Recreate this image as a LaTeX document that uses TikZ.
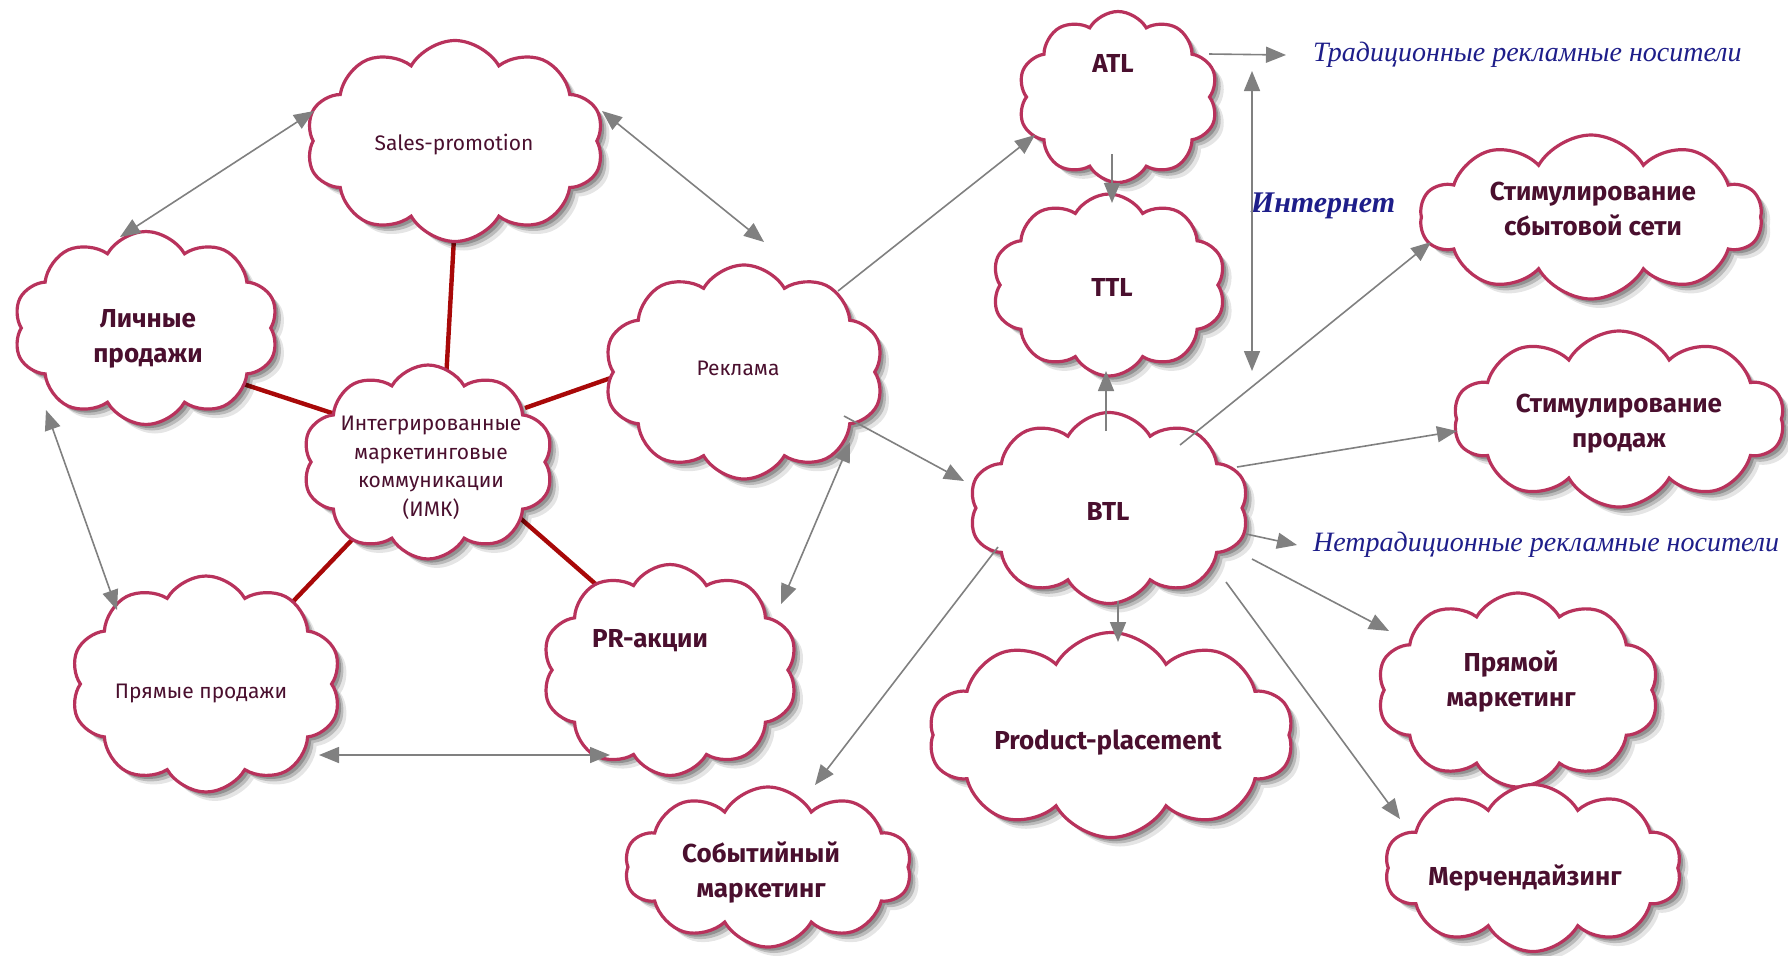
\documentclass[tikz,border=0pt]{standalone}
\usepackage{fontspec}
\setmainfont{Fira Sans}
\newfontfamily\serifit{Liberation Serif}
\usetikzlibrary{shapes.symbols,shadows,arrows.meta,calc}
\pgfdeclarelayer{bottom}
\pgfdeclarelayer{links}
\pgfsetlayers{bottom,links,main}
\definecolor{cloudc}{HTML}{B8325C}
\definecolor{txtc}{HTML}{4A0F2E}
\definecolor{linkc}{HTML}{A80808}
\definecolor{arrc}{HTML}{808080}
\definecolor{bluec}{HTML}{1E1E8A}
\begin{document}
\begin{tikzpicture}[x=0.5pt,y=-0.5pt,
 cl/.style 2 args={cloud, cloud puffs=10, cloud puff arc=120, cloud ignores aspect,
   minimum width=#1*0.5pt, minimum height=#2*0.5pt, draw=cloudc, line width=1.6pt,
   fill=white, inner sep=0pt,
   drop shadow={shadow xshift=4.5pt, shadow yshift=-4.5pt, fill=black, opacity=0.10},
   drop shadow={shadow xshift=3pt, shadow yshift=-3pt, fill=black, opacity=0.18},
   drop shadow={shadow xshift=1.8pt, shadow yshift=-1.8pt, fill=black, opacity=0.22}},
 lbl/.style={text=txtc, font=\fontsize{10.5}{14.25}\selectfont, align=center},
 blbl/.style={text=txtc, font=\fontsize{13}{17.5}\selectfont\bfseries, align=center},
 itl/.style={text=bluec, font=\serifit\itshape\fontsize{14}{16}\selectfont, anchor=west},
 gar/.style={draw=arrc, line width=0.8pt, -{Triangle[length=10pt,width=8pt]}},
 gdar/.style={draw=arrc, line width=0.8pt, {Triangle[length=10pt,width=8pt]}-{Triangle[length=10pt,width=8pt]}},
 redlink/.style={draw=linkc, line width=2.2pt}
]
\begin{pgfonlayer}{bottom}
\fill[white] (0,0) rectangle (1788,955);
\end{pgfonlayer}
\useasboundingbox (0,0) rectangle (1788,955);

% clouds
\node[cl={298}{201}] (sales) at (455,141) {};
\node[cl={265}{193}] (lich) at (146,328) {};
\node[cl={280}{214}] (rekl) at (744,372) {};
\node[cl={251}{194}] (imk) at (428,462) {};
\node[cl={271}{216}] (pryam) at (206,684) {};
\node[cl={256}{211}] (pr) at (670,670) {};
\node[cl={200}{171}] (atl) at (1118,97) {};
\node[cl={234}{182}] (ttl) at (1109,285) {};
\node[cl={280}{191}] (btl) at (1109,508) {};
\node[cl={342}{164}] (sbyt) at (1591,217) {};
\node[cl={331}{176}] (stprod) at (1619,419) {};
\node[cl={282}{194}] (pmark) at (1518,690) {};
\node[cl={297}{167}] (merch) at (1533,868) {};
\node[cl={365}{205}] (pp) at (1111,735) {};
\node[cl={287}{160}] (sob) at (768,867) {};

% texts
\node[lbl] (salesT) at (454,145) {Sales-promotion};
\node[blbl] (lichT) at (148,339) {Личные\\продажи};
\node[lbl] (reklT) at (738,368) {Реклама};
\node[lbl] (imkT) at (431,468) {Интегрированные\\маркетинговые\\коммуникации\\(ИМК)};
\node[lbl] (pryamT) at (201,693) {Прямые продажи};
\node[blbl] (prT) at (650,641) {PR-акции};
\node[blbl] (atlT) at (1113,63) {ATL};
\node[blbl] (ttlT) at (1112,287) {TTL};
\node[blbl] (btlT) at (1108,511) {BTL};
\node[blbl] (sbytT) at (1593,209) {Стимулирование\\сбытовой сети};
\node[blbl] (stprodT) at (1619,424) {Стимулирование\\продаж};
\node[blbl] (pmarkT) at (1511,681) {Прямой\\маркетинг};
\node[blbl] (merchT) at (1525,878) {Мерчендайзинг};
\node[blbl] (ppT) at (1108,743) {Product-placement};
\node[blbl] (sobT) at (761,872) {Событийный\\маркетинг};
\node[itl] (trad) at (1306,55) {Традиционные рекламные носители};
\node[itl] (netrad) at (1306,545) {Нетрадиционные рекламные носители};
\node[itl, anchor=center, font=\serifit\itshape\bfseries\fontsize{15}{17}\selectfont] (inet) at (1323,206) {Интернет};
\coordinate (inetTop) at (1252,71);
\coordinate (inetBot) at (1252,371);

% red links behind clouds
\begin{pgfonlayer}{links}
\draw[redlink] ($(sales)+(0,79)$) -- ($(imk)+(18,-82)$);
\draw[redlink] ($(lich)+(79,50)$) -- ($(imk)+(-90,-47)$);
\draw[redlink] ($(rekl)+(-119,1)$) -- ($(imk)+(97,-54)$);
\draw[redlink] ($(pryam)+(54,-48)$) -- ($(imk)+(-58,59)$);
\draw[redlink] ($(pr)+(-55,-69)$) -- ($(imk)+(92,56)$);
\end{pgfonlayer}

% double arrows
\draw[gdar] ($(sales)+(-141,-30)$) -- ($(lich)+(-26,-91)$);
\draw[gdar] ($(sales)+(147,-30)$) -- ($(rekl)+(20,-130)$);
\draw[gdar] ($(lich)+(-100,82)$) -- ($(pryam)+(-89,-74)$);
\draw[gdar] ($(pryam)+(113,71)$) -- ($(pr)+(-60,85)$);
\draw[gdar] ($(rekl)+(106,70)$) -- ($(pr)+(111,-66)$);
\draw[gdar] (inetTop) -- (inetBot);

% single arrows
\draw[gar] ($(rekl)+(94,-81)$) -- ($(atl)+(-83,38)$);
\draw[gar] ($(rekl)+(100,44)$) -- ($(btl)+(-145,-27)$);
\draw[gar] ($(atl)+(-6,57)$) -- ($(ttl)+(3,-82)$);
\draw[gar] ($(btl)+(-3,-77)$) -- ($(ttl)+(-3,86)$);
\draw[gar] ($(atl)+(91,-43)$) -- ($(trad.west)+(-20,0)$);
\draw[gar] ($(btl)+(71,-63)$) -- ($(sbyt)+(-160,25)$);
\draw[gar] ($(btl)+(128,-41)$) -- ($(stprod)+(-162,12)$);
\draw[gar] ($(btl)+(137,26)$) -- ($(netrad.west)+(-9,0)$);
\draw[gar] ($(btl)+(143,51)$) -- ($(pmark)+(-129,-59)$);
\draw[gar] ($(btl)+(117,74)$) -- ($(merch)+(-133,-49)$);
\draw[gar] ($(btl)+(9,93)$) -- ($(pp)+(7,-93)$);
\draw[gar] ($(btl)+(-111,39)$) -- ($(sob)+(47,-82)$);
\end{tikzpicture}
\end{document}
